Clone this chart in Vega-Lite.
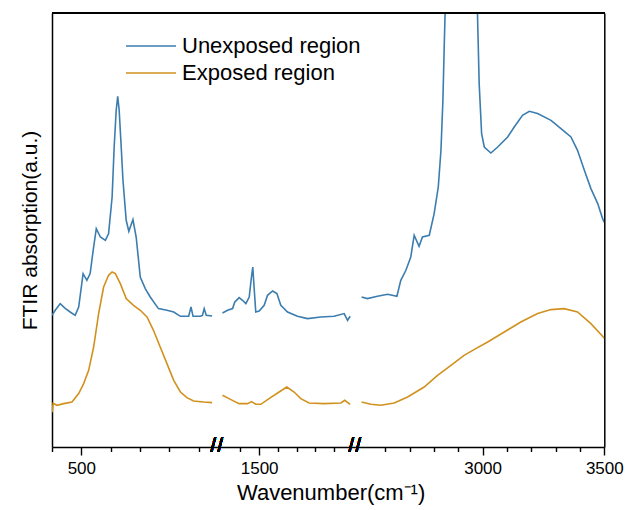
{
  "$schema": "https://vega.github.io/schema/vega-lite/v6.json",
  "padding": {"left": 19, "top": 12, "right": 5, "bottom": 5},
  "background": "white",
  "bounds": "flush",
  "spacing": 0,
  "title": {"text": "Wavenumber(cm⁻¹)", "orient": "bottom", "anchor": "middle", "frame": "bounds", "font": "Liberation Sans", "fontSize": 22, "fontWeight": "normal", "color": "black", "offset": 7, "dx": 10},
  "config": {
    "view": {"stroke": null},
    "axis": {"grid": false, "domainColor": "black", "domainWidth": 1.5, "labelColor": "black", "labelFont": "Liberation Sans", "labelFontSize": 17, "titleFont": "Liberation Sans", "titleFontWeight": "normal", "titleColor": "black", "labelFlush": false, "labelOverlap": false}
  },
  "resolve": {"legend": {"color": "independent"}},
  "data": {"values": [
    {"seg":1,"series":"Unexposed region","wn":400,"a":131.7},
    {"seg":1,"series":"Unexposed region","wn":411,"a":136.7},
    {"seg":1,"series":"Unexposed region","wn":428,"a":143.4},
    {"seg":1,"series":"Unexposed region","wn":445,"a":138.7},
    {"seg":1,"series":"Unexposed region","wn":462,"a":135},
    {"seg":1,"series":"Unexposed region","wn":479,"a":131.7},
    {"seg":1,"series":"Unexposed region","wn":491,"a":140},
    {"seg":1,"series":"Unexposed region","wn":506,"a":173.4},
    {"seg":1,"series":"Unexposed region","wn":519,"a":166.7},
    {"seg":1,"series":"Unexposed region","wn":530,"a":173.4},
    {"seg":1,"series":"Unexposed region","wn":542,"a":200},
    {"seg":1,"series":"Unexposed region","wn":551,"a":218.4},
    {"seg":1,"series":"Unexposed region","wn":565,"a":210},
    {"seg":1,"series":"Unexposed region","wn":582,"a":206.7},
    {"seg":1,"series":"Unexposed region","wn":593,"a":213.4},
    {"seg":1,"series":"Unexposed region","wn":605,"a":250},
    {"seg":1,"series":"Unexposed region","wn":612,"a":300},
    {"seg":1,"series":"Unexposed region","wn":619,"a":337},
    {"seg":1,"series":"Unexposed region","wn":624,"a":350.7},
    {"seg":1,"series":"Unexposed region","wn":629,"a":337},
    {"seg":1,"series":"Unexposed region","wn":636,"a":300},
    {"seg":1,"series":"Unexposed region","wn":642,"a":266.7},
    {"seg":1,"series":"Unexposed region","wn":653,"a":226.7},
    {"seg":1,"series":"Unexposed region","wn":662,"a":215.7},
    {"seg":1,"series":"Unexposed region","wn":676,"a":227.4},
    {"seg":1,"series":"Unexposed region","wn":687,"a":210},
    {"seg":1,"series":"Unexposed region","wn":701,"a":170},
    {"seg":1,"series":"Unexposed region","wn":718,"a":158.4},
    {"seg":1,"series":"Unexposed region","wn":735,"a":150},
    {"seg":1,"series":"Unexposed region","wn":763,"a":138.4},
    {"seg":1,"series":"Unexposed region","wn":792,"a":136.7},
    {"seg":1,"series":"Unexposed region","wn":815,"a":135},
    {"seg":1,"series":"Unexposed region","wn":838,"a":130.7},
    {"seg":1,"series":"Unexposed region","wn":866,"a":130.7},
    {"seg":1,"series":"Unexposed region","wn":874,"a":140},
    {"seg":1,"series":"Unexposed region","wn":881,"a":130.7},
    {"seg":1,"series":"Unexposed region","wn":906,"a":130.7},
    {"seg":1,"series":"Unexposed region","wn":913,"a":131.5},
    {"seg":1,"series":"Unexposed region","wn":919,"a":138.4},
    {"seg":1,"series":"Unexposed region","wn":926,"a":131.7},
    {"seg":1,"series":"Unexposed region","wn":946,"a":131},
    {"seg":1,"series":"Exposed region","wn":400,"a":34.7},
    {"seg":1,"series":"Exposed region","wn":404,"a":43.7},
    {"seg":1,"series":"Exposed region","wn":417,"a":41.7},
    {"seg":1,"series":"Exposed region","wn":440,"a":43.4},
    {"seg":1,"series":"Exposed region","wn":468,"a":45},
    {"seg":1,"series":"Exposed region","wn":491,"a":53.4},
    {"seg":1,"series":"Exposed region","wn":508,"a":63.4},
    {"seg":1,"series":"Exposed region","wn":525,"a":76.7},
    {"seg":1,"series":"Exposed region","wn":542,"a":100},
    {"seg":1,"series":"Exposed region","wn":559,"a":133.4},
    {"seg":1,"series":"Exposed region","wn":576,"a":160},
    {"seg":1,"series":"Exposed region","wn":593,"a":171.7},
    {"seg":1,"series":"Exposed region","wn":605,"a":175},
    {"seg":1,"series":"Exposed region","wn":616,"a":173.4},
    {"seg":1,"series":"Exposed region","wn":633,"a":163.4},
    {"seg":1,"series":"Exposed region","wn":653,"a":148.4},
    {"seg":1,"series":"Exposed region","wn":678,"a":141.7},
    {"seg":1,"series":"Exposed region","wn":701,"a":136.7},
    {"seg":1,"series":"Exposed region","wn":724,"a":130},
    {"seg":1,"series":"Exposed region","wn":746,"a":116.7},
    {"seg":1,"series":"Exposed region","wn":769,"a":100},
    {"seg":1,"series":"Exposed region","wn":792,"a":83.4},
    {"seg":1,"series":"Exposed region","wn":815,"a":66.7},
    {"seg":1,"series":"Exposed region","wn":838,"a":55},
    {"seg":1,"series":"Exposed region","wn":860,"a":49.4},
    {"seg":1,"series":"Exposed region","wn":883,"a":46},
    {"seg":1,"series":"Exposed region","wn":917,"a":45},
    {"seg":1,"series":"Exposed region","wn":946,"a":44.4},
    {"seg":2,"series":"Unexposed region","wn":1304,"a":134},
    {"seg":2,"series":"Unexposed region","wn":1331,"a":136.7},
    {"seg":2,"series":"Unexposed region","wn":1358,"a":138.4},
    {"seg":2,"series":"Unexposed region","wn":1370,"a":145},
    {"seg":2,"series":"Unexposed region","wn":1393,"a":149.4},
    {"seg":2,"series":"Unexposed region","wn":1411,"a":146.7},
    {"seg":2,"series":"Unexposed region","wn":1429,"a":143.4},
    {"seg":2,"series":"Unexposed region","wn":1447,"a":150},
    {"seg":2,"series":"Unexposed region","wn":1459,"a":170},
    {"seg":2,"series":"Unexposed region","wn":1466,"a":180},
    {"seg":2,"series":"Unexposed region","wn":1473,"a":160},
    {"seg":2,"series":"Unexposed region","wn":1482,"a":135},
    {"seg":2,"series":"Unexposed region","wn":1500,"a":136},
    {"seg":2,"series":"Unexposed region","wn":1527,"a":141.7},
    {"seg":2,"series":"Unexposed region","wn":1545,"a":151.7},
    {"seg":2,"series":"Unexposed region","wn":1572,"a":156},
    {"seg":2,"series":"Unexposed region","wn":1595,"a":153.4},
    {"seg":2,"series":"Unexposed region","wn":1616,"a":141.7},
    {"seg":2,"series":"Unexposed region","wn":1652,"a":135},
    {"seg":2,"series":"Unexposed region","wn":1705,"a":130.7},
    {"seg":2,"series":"Unexposed region","wn":1759,"a":128.4},
    {"seg":2,"series":"Unexposed region","wn":1830,"a":130},
    {"seg":2,"series":"Unexposed region","wn":1901,"a":130.7},
    {"seg":2,"series":"Unexposed region","wn":1955,"a":133.4},
    {"seg":2,"series":"Unexposed region","wn":1973,"a":126.7},
    {"seg":2,"series":"Unexposed region","wn":1987,"a":130.7},
    {"seg":2,"series":"Exposed region","wn":1304,"a":51.7},
    {"seg":2,"series":"Exposed region","wn":1349,"a":47.4},
    {"seg":2,"series":"Exposed region","wn":1393,"a":43.4},
    {"seg":2,"series":"Exposed region","wn":1438,"a":43.4},
    {"seg":2,"series":"Exposed region","wn":1459,"a":45.4},
    {"seg":2,"series":"Exposed region","wn":1482,"a":42.7},
    {"seg":2,"series":"Exposed region","wn":1509,"a":42.7},
    {"seg":2,"series":"Exposed region","wn":1553,"a":48.4},
    {"seg":2,"series":"Exposed region","wn":1607,"a":55},
    {"seg":2,"series":"Exposed region","wn":1648,"a":60},
    {"seg":2,"series":"Exposed region","wn":1687,"a":55},
    {"seg":2,"series":"Exposed region","wn":1723,"a":48.4},
    {"seg":2,"series":"Exposed region","wn":1767,"a":44},
    {"seg":2,"series":"Exposed region","wn":1848,"a":43.4},
    {"seg":2,"series":"Exposed region","wn":1937,"a":44},
    {"seg":2,"series":"Exposed region","wn":1958,"a":46.7},
    {"seg":2,"series":"Exposed region","wn":1987,"a":42.7},
    {"seg":3,"series":"Unexposed region","wn":2503,"a":150},
    {"seg":3,"series":"Unexposed region","wn":2527,"a":148.4},
    {"seg":3,"series":"Unexposed region","wn":2568,"a":150.7},
    {"seg":3,"series":"Unexposed region","wn":2610,"a":152.7},
    {"seg":3,"series":"Unexposed region","wn":2648,"a":150.7},
    {"seg":3,"series":"Unexposed region","wn":2664,"a":166.7},
    {"seg":3,"series":"Unexposed region","wn":2685,"a":176.7},
    {"seg":3,"series":"Unexposed region","wn":2705,"a":190},
    {"seg":3,"series":"Unexposed region","wn":2719,"a":211.7},
    {"seg":3,"series":"Unexposed region","wn":2739,"a":200.7},
    {"seg":3,"series":"Unexposed region","wn":2753,"a":210},
    {"seg":3,"series":"Unexposed region","wn":2781,"a":211.7},
    {"seg":3,"series":"Unexposed region","wn":2801,"a":233.4},
    {"seg":3,"series":"Unexposed region","wn":2818,"a":260},
    {"seg":3,"series":"Unexposed region","wn":2829,"a":296.7},
    {"seg":3,"series":"Unexposed region","wn":2837,"a":346.7},
    {"seg":3,"series":"Unexposed region","wn":2842,"a":396.7},
    {"seg":3,"series":"Unexposed region","wn":2846,"a":433.4},
    {"seg":3,"series":"Unexposed region","wn":2853,"a":506},
    {"seg":3,"series":"Unexposed region","wn":2911,"a":647},
    {"seg":3,"series":"Unexposed region","wn":2974,"a":506},
    {"seg":3,"series":"Unexposed region","wn":2979,"a":433.4},
    {"seg":3,"series":"Unexposed region","wn":2986,"a":363.4},
    {"seg":3,"series":"Unexposed region","wn":2996,"a":313.4},
    {"seg":3,"series":"Unexposed region","wn":3007,"a":300},
    {"seg":3,"series":"Unexposed region","wn":3034,"a":294},
    {"seg":3,"series":"Unexposed region","wn":3062,"a":300},
    {"seg":3,"series":"Unexposed region","wn":3103,"a":310},
    {"seg":3,"series":"Unexposed region","wn":3130,"a":320},
    {"seg":3,"series":"Unexposed region","wn":3164,"a":331.7},
    {"seg":3,"series":"Unexposed region","wn":3192,"a":335.7},
    {"seg":3,"series":"Unexposed region","wn":3226,"a":333.4},
    {"seg":3,"series":"Unexposed region","wn":3281,"a":326.7},
    {"seg":3,"series":"Unexposed region","wn":3322,"a":318.4},
    {"seg":3,"series":"Unexposed region","wn":3363,"a":310},
    {"seg":3,"series":"Unexposed region","wn":3390,"a":296.7},
    {"seg":3,"series":"Unexposed region","wn":3418,"a":276.7},
    {"seg":3,"series":"Unexposed region","wn":3445,"a":258.4},
    {"seg":3,"series":"Unexposed region","wn":3473,"a":243.4},
    {"seg":3,"series":"Unexposed region","wn":3493,"a":228.4},
    {"seg":3,"series":"Unexposed region","wn":3500,"a":224.7},
    {"seg":3,"series":"Exposed region","wn":2503,"a":45},
    {"seg":3,"series":"Exposed region","wn":2541,"a":42.7},
    {"seg":3,"series":"Exposed region","wn":2582,"a":41.7},
    {"seg":3,"series":"Exposed region","wn":2637,"a":44},
    {"seg":3,"series":"Exposed region","wn":2692,"a":50},
    {"seg":3,"series":"Exposed region","wn":2760,"a":60},
    {"seg":3,"series":"Exposed region","wn":2815,"a":71.7},
    {"seg":3,"series":"Exposed region","wn":2870,"a":81.7},
    {"seg":3,"series":"Exposed region","wn":2924,"a":91.7},
    {"seg":3,"series":"Exposed region","wn":2972,"a":98.4},
    {"seg":3,"series":"Exposed region","wn":3021,"a":105},
    {"seg":3,"series":"Exposed region","wn":3089,"a":115},
    {"seg":3,"series":"Exposed region","wn":3157,"a":125},
    {"seg":3,"series":"Exposed region","wn":3226,"a":133.4},
    {"seg":3,"series":"Exposed region","wn":3281,"a":137.4},
    {"seg":3,"series":"Exposed region","wn":3335,"a":138.4},
    {"seg":3,"series":"Exposed region","wn":3390,"a":135},
    {"seg":3,"series":"Exposed region","wn":3445,"a":123.4},
    {"seg":3,"series":"Exposed region","wn":3493,"a":110.7},
    {"seg":3,"series":"Exposed region","wn":3500,"a":108.7}
  ]},
  "hconcat": [
    {
      "width": 165.4, "height": 434,
      "transform": [{"filter": "datum.seg === 1"}],
      "resolve": {"axis": {"x": "independent", "y": "independent"}},
      "layer": [
        {"mark": {"type": "line", "clip": true, "strokeWidth": 1.6},
         "encoding": {
           "x": {"field": "wn", "type": "quantitative", "scale": {"domain": [400, 964], "nice": false, "zero": false},
                 "axis": {"values": [400, 500, 600, 700, 800, 900], "labelExpr": "datum.value === 500 ? '500' : ''", "ticks": true, "tickColor": "#000000", "tickWidth": 1.4, "tickOpacity": 1, "tickSize": {"condition": {"test": "datum.value === 500", "value": 8}, "value": 4.5}, "labelPadding": 5, "title": null}},
           "y": {"field": "a", "type": "quantitative", "scale": {"domain": [0, 434], "nice": false, "zero": false},
                 "axis": {"labels": false, "ticks": false, "title": "FTIR absorption(a.u.)", "titleFontSize": 21, "titlePadding": 12}},
           "color": {"field": "series", "type": "nominal", "scale": {"domain": ["Unexposed region", "Exposed region"], "range": ["#3b7daf", "#d1911e"]},
                     "legend": {"orient": "none", "legendX": 88, "legendY": 22, "title": null, "symbolType": "M-5,0H5", "symbolSize": 100, "symbolStrokeWidth": 1.6, "labelFont": "Liberation Sans", "labelFontSize": 22, "labelColor": "black", "labelOffset": 20, "labelLimit": 0, "rowPadding": 5, "padding": 0}}
         }},
        {"mark": {"type": "rule", "color": "black", "strokeWidth": 1.5}, "encoding": {"y": {"datum": 434, "axis": null}}},
        {"mark": {"type": "text", "text": "/", "font": "Liberation Sans", "fontSize": 20, "baseline": "middle", "dx": -4, "dy": -1, "color": "black"},
         "encoding": {"x": {"datum": 964, "axis": null}, "y": {"datum": 0, "axis": null}}},
        {"mark": {"type": "text", "text": "/", "font": "Liberation Sans", "fontSize": 20, "baseline": "middle", "dx": 3, "dy": -1, "color": "black"},
         "encoding": {"x": {"datum": 964, "axis": null}, "y": {"datum": 0, "axis": null}}}
      ]
    },
    {
      "width": 137.4, "height": 434,
      "transform": [{"filter": "datum.seg === 2"}],
      "resolve": {"axis": {"x": "independent", "y": "independent"}},
      "layer": [
        {"mark": {"type": "line", "clip": true, "strokeWidth": 1.6},
         "encoding": {
           "x": {"field": "wn", "type": "quantitative", "scale": {"domain": [1280, 2015], "nice": false, "zero": false},
                 "axis": {"values": [1400, 1500, 1600, 1700, 1800, 1900], "labelExpr": "datum.value === 1500 ? '1500' : ''", "ticks": true, "tickColor": "#000000", "tickWidth": 1.4, "tickOpacity": 1, "tickSize": {"condition": {"test": "datum.value === 1500", "value": 8}, "value": 4.5}, "labelPadding": 5, "title": null}},
           "y": {"field": "a", "type": "quantitative", "scale": {"domain": [0, 434], "nice": false, "zero": false}, "axis": null},
           "color": {"field": "series", "type": "nominal", "scale": {"domain": ["Unexposed region", "Exposed region"], "range": ["#3b7daf", "#d1911e"]}, "legend": null}
         }},
        {"mark": {"type": "rule", "color": "black", "strokeWidth": 1.5}, "encoding": {"y": {"datum": 434, "axis": null}}},
        {"mark": {"type": "text", "text": "/", "font": "Liberation Sans", "fontSize": 20, "baseline": "middle", "dx": -4, "dy": -1, "color": "black"},
         "encoding": {"x": {"datum": 2015, "axis": null}, "y": {"datum": 0, "axis": null}}},
        {"mark": {"type": "text", "text": "/", "font": "Liberation Sans", "fontSize": 20, "baseline": "middle", "dx": 3, "dy": -1, "color": "black"},
         "encoding": {"x": {"datum": 2015, "axis": null}, "y": {"datum": 0, "axis": null}}}
      ]
    },
    {
      "width": 248.3, "height": 434,
      "transform": [{"filter": "datum.seg === 3"}],
      "layer": [
        {"mark": {"type": "line", "clip": true, "strokeWidth": 1.6},
         "encoding": {
           "x": {"field": "wn", "type": "quantitative", "scale": {"domain": [2480, 3500], "nice": false, "zero": false},
                 "axis": {"values": [2600, 2700, 2800, 2900, 3000, 3100, 3200, 3300, 3400, 3500], "labelExpr": "datum.value === 3000 ? '3000' : datum.value === 3500 ? '3500' : ''", "ticks": true, "tickColor": "#000000", "tickWidth": 1.4, "tickOpacity": 1, "tickSize": {"condition": {"test": "datum.value === 3000 || datum.value === 3500", "value": 8}, "value": 4.5}, "labelPadding": 5, "title": null}},
           "y": {"field": "a", "type": "quantitative", "scale": {"domain": [0, 434], "nice": false, "zero": false}, "axis": {"orient": "right", "labels": false, "ticks": false, "title": null}},
           "color": {"field": "series", "type": "nominal", "scale": {"domain": ["Unexposed region", "Exposed region"], "range": ["#3b7daf", "#d1911e"]}, "legend": null}
         }},
        {"mark": {"type": "rule", "color": "black", "strokeWidth": 1.5}, "encoding": {"y": {"datum": 434}}}
      ]
    }
  ]
}
